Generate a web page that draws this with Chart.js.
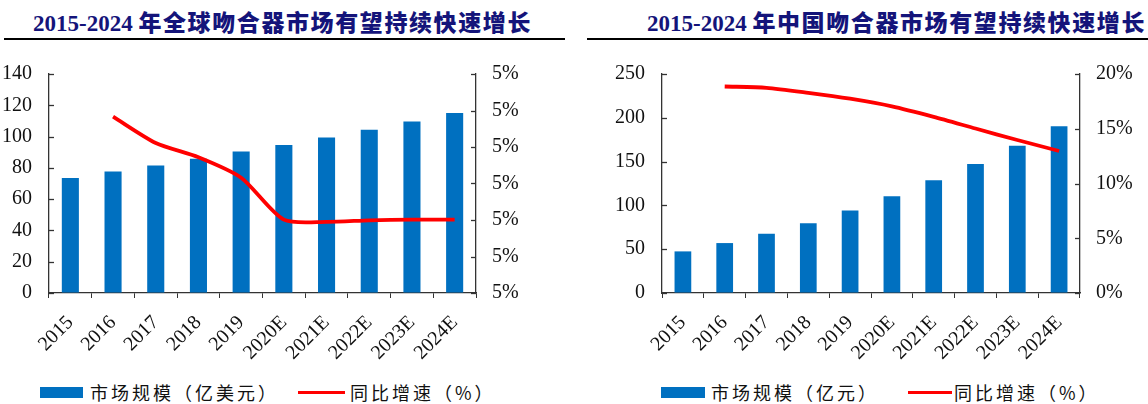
<!DOCTYPE html>
<html lang="zh">
<head>
<meta charset="utf-8" />
<title>吻合器市场规模</title>
<script src="https://cdn.jsdelivr.net/npm/chart.js"></script>
<style>
  body { margin: 0; width: 1148px; height: 404px; background: #fff; position: relative; overflow: hidden; }
  .title { position: absolute; top: 4px; font: bold 23px "Liberation Serif", serif; color: #14147a; white-space: nowrap; }
  .title span { font-family: "Noto Sans CJK SC", sans-serif; font-weight: 900; letter-spacing: 1.6px; }
  .rule { position: absolute; top: 38px; height: 2.4px; background: #000; }
  canvas { position: absolute; top: 45px; }
  .lg { position: absolute; font: 18px "Noto Sans CJK SC", sans-serif; letter-spacing: 3px; color: #111; top: 379px; white-space: nowrap; }
  .box { position: absolute; top: 387px; height: 11px; background: #0070C0; }
  .ln { position: absolute; top: 391px; height: 3px; background: #ff0000; }
  .probe { position: absolute; left: -999px; font: 20px "Liberation Serif"; }
</style>
</head>
<body>
<div class="probe">0123456789%</div>
<div class="title" style="left:33px">2015-2024 <span>年全球吻合器市场有望持续快速增长</span></div>
<div class="rule" style="left:4px;width:561px"></div>
<div class="title" style="left:647px">2015-2024 <span>年中国吻合器市场有望持续快速增长</span></div>
<div class="rule" style="left:587px;width:561px"></div>

<canvas id="globalChart" width="574" height="330" style="left:0"></canvas>
<canvas id="chinaChart" width="574" height="330" style="left:574px"></canvas>

<div class="box" style="left:40px;width:43px"></div>
<div class="lg" style="left:90px">市场规模（亿美元）</div>
<div class="ln" style="left:298px;width:47px"></div>
<div class="lg" style="left:350px">同比增速（%）</div>

<div class="box" style="left:661px;width:44px"></div>
<div class="lg" style="left:711px">市场规模（亿元）</div>
<div class="ln" style="left:908px;width:44px"></div>
<div class="lg" style="left:954px">同比增速（%）</div>

<script>
const years = ['2015', '2016', '2017', '2018', '2019', '2020E', '2021E', '2022E', '2023E', '2024E'];

// 全球 (亿美元, %)
const globalSize = [73.5, 77.7, 81.5, 85.9, 90.4, 94.6, 99.4, 104.3, 109.6, 115.1];
const globalGrowth = [null, 5.083, 5.011, 4.972, 4.916, 4.801, 4.795, 4.799, 4.801, 4.801];
const globalLeftTicks = [0, 140, 20];
const globalRightTicks = [4.6, 5.2, 0.1];

// 中国 (亿元, %)
const chinaSize = [47.5, 57.0, 67.5, 79.6, 94.3, 110.5, 128.6, 147.4, 168.2, 190.4];
const chinaGrowth = [null, 18.86, 18.74, 18.28, 17.74, 17.04, 16.08, 15.02, 13.97, 12.97];
const chinaLeftTicks = [0, 250, 50];
const chinaRightTicks = [0, 20, 5];

const AXIS = '#333';
const TICK_FONT = { family: "'Liberation Serif', 'Times New Roman', serif", size: 20 };

// small inward tick marks on both value axes
const innerTicks = {
    id: 'innerTicks',
    afterDraw(chart) {
        const ctx = chart.ctx;
        const area = chart.chartArea;
        ctx.save();
        ctx.strokeStyle = AXIS;
        ctx.lineWidth = 1.3;
        ['y', 'y2'].forEach(id => {
            const s = chart.scales[id];
            const x0 = id === 'y' ? area.left : area.right;
            const dir = id === 'y' ? 1 : -1;
            s.ticks.forEach(t => {
                const py = Math.round(s.getPixelForValue(t.value)) + 0.5;
                ctx.beginPath();
                ctx.moveTo(x0, py);
                ctx.lineTo(x0 + dir * 5, py);
                ctx.stroke();
            });
        });
        ctx.restore();
    }
};

function makeChart(id, sizes, growth, leftTicks, rightTicks, leftW, rightW, pctFmt) {
    return new Chart(document.getElementById(id), {
        type: 'bar',
        data: {
            labels: years,
            datasets: [{
                type: 'line',
                data: growth,
                yAxisID: 'y2',
                borderColor: '#ff0000',
                borderWidth: 3.8,
                pointRadius: 0,
                tension: 0.25,
                order: 0
            }, {
                data: sizes,
                yAxisID: 'y',
                backgroundColor: '#0070C0',
                barPercentage: 0.4,
                categoryPercentage: 1,
                order: 1
            }]
        },
        options: {
            responsive: false,
            animation: false,
            devicePixelRatio: 1,
            layout: { padding: { top: 27, left: 0, right: 0, bottom: 0 } },
            plugins: { legend: { display: false }, tooltip: { enabled: false } },
            scales: {
                x: {
                    grid: { drawOnChartArea: false, drawTicks: true, tickLength: 5, color: AXIS, offset: true },
                    border: { color: AXIS, width: 1.3 },
                    ticks: { minRotation: 45, maxRotation: 45, padding: 13, color: '#111', font: TICK_FONT },
                    afterFit: s => { s.height = 82; }
                },
                y: {
                    min: leftTicks[0], max: leftTicks[1],
                    ticks: { stepSize: leftTicks[2], padding: 17, color: '#111', font: TICK_FONT },
                    grid: { drawOnChartArea: false, drawTicks: false },
                    border: { color: AXIS, width: 1.3 },
                    afterFit: s => { s.width = leftW; }
                },
                y2: {
                    position: 'right',
                    min: rightTicks[0], max: rightTicks[1],
                    ticks: { stepSize: rightTicks[2], padding: 16, color: '#111', font: TICK_FONT, callback: pctFmt },
                    grid: { drawOnChartArea: false, drawTicks: false },
                    border: { color: AXIS, width: 1.3 },
                    afterFit: s => { s.width = rightW; }
                }
            }
        },
        plugins: [innerTicks]
    });
}

function build() {
    makeChart('globalChart', globalSize, globalGrowth, globalLeftTicks, globalRightTicks, 49, 98,
        v => Math.round(v) + '%');
    makeChart('chinaChart', chinaSize, chinaGrowth, chinaLeftTicks, chinaRightTicks, 88, 68,
        v => Math.round(v) + '%');
}

document.fonts.load('20px "Liberation Serif"').then(build, build);
</script>
</body>
</html>
